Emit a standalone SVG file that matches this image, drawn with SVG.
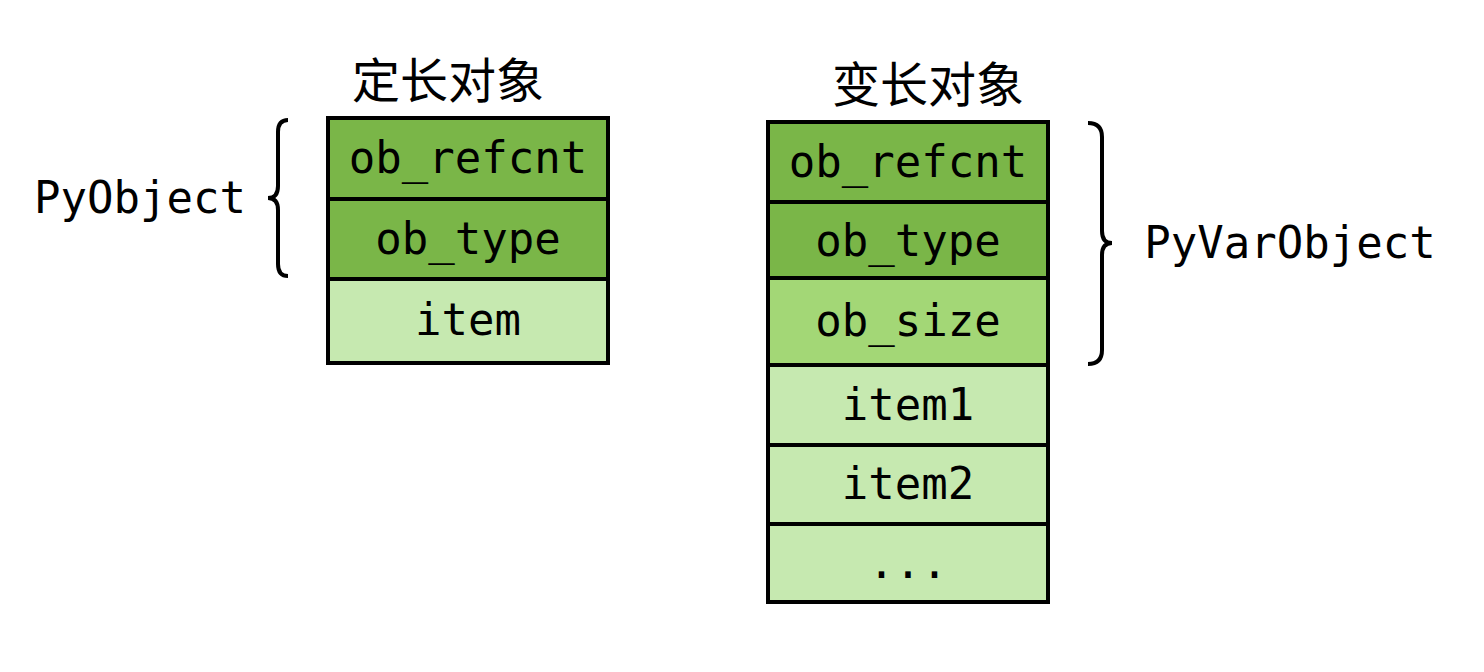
<svg xmlns="http://www.w3.org/2000/svg" width="1484" height="672" viewBox="0 0 1484 672">
<style>
.c{stroke:#000;stroke-width:4}
.d{fill:#7ab648}.m{fill:#a3d776}.l{fill:#c6e9b0}
text{font-family:"DejaVu Sans Mono",monospace;font-size:44px;fill:#000;text-anchor:middle}
.t{font-family:"Noto Sans CJK SC",sans-serif;font-size:48px}
.b{fill:none;stroke:#000;stroke-width:4}
</style>
<rect width="1484" height="672" fill="#fff"/>
<g id="fixed">
<text class="t" x="448" y="98">定长对象</text>
<rect class="c d" x="328" y="118" width="280" height="81"/>
<text x="468" y="173">ob_refcnt</text>
<rect class="c d" x="328" y="199" width="280" height="80"/>
<text x="468" y="254">ob_type</text>
<rect class="c l" x="328" y="279" width="280" height="84"/>
<text x="468" y="335">item</text>
</g>
<g id="var">
<text class="t" x="928" y="102">变长对象</text>
<rect class="c d" x="768" y="122" width="280" height="80"/>
<text x="908" y="177">ob_refcnt</text>
<rect class="c d" x="768" y="202" width="280" height="76"/>
<text x="908" y="256">ob_type</text>
<rect class="c m" x="768" y="278" width="280" height="87"/>
<text x="908" y="336">ob_size</text>
<rect class="c l" x="768" y="365" width="280" height="80"/>
<text x="908" y="420">item1</text>
<rect class="c l" x="768" y="445" width="280" height="79"/>
<text x="908" y="499">item2</text>
<rect class="c l" x="768" y="524" width="280" height="78"/>
<text x="908" y="578">...</text>
</g>
<g id="connectors">
<path class="b" d="M288,120 Q278,120 278,132 L278,186 Q278,198 268,198 Q278,198 278,210 L278,264 Q278,276 288,276"/>
<path class="b" d="M1088,123 Q1102,123 1102,137 L1102,231 Q1102,243 1112,243 Q1102,243 1102,255 L1102,350 Q1102,364 1088,364"/>
</g>
<g id="labels">
<text x="140" y="213">PyObject</text>
<text x="1290" y="258">PyVarObject</text>
</g>
</svg>
